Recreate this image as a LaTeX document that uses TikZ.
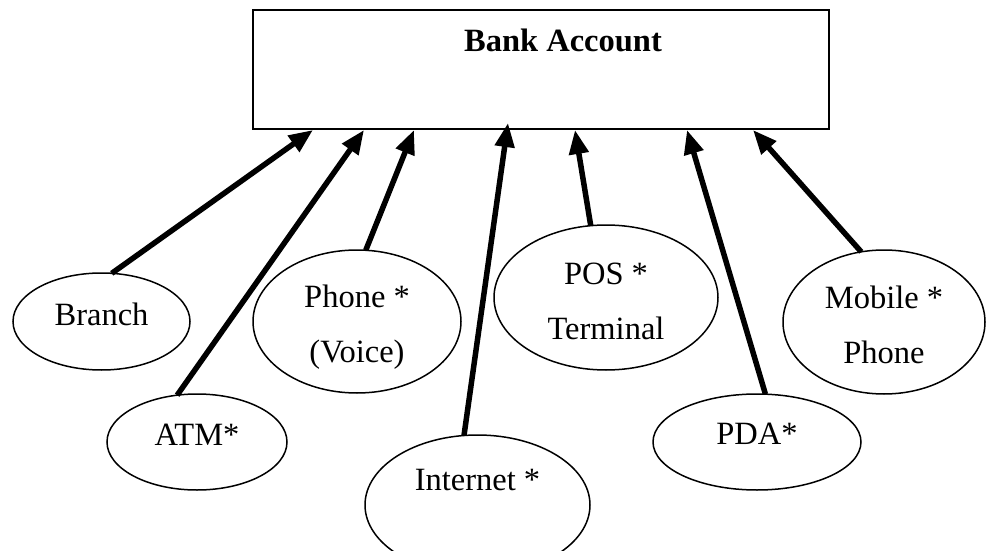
\documentclass[tikz,border=0pt]{standalone}
\usepackage{fontspec}
\setmainfont{Liberation Serif}
\usetikzlibrary{shapes.geometric,arrows.meta,calc}
\begin{document}
\begin{tikzpicture}[x=1pt,y=-1pt,
  oval/.style={draw,ellipse,line width=1.5pt,inner sep=0pt,outer sep=0pt,font=\fontsize{32.5}{55}\selectfont},
  link/.style={line width=5.5pt,-{Triangle[length=24pt,width=19pt]}},
  acctbox/.style={draw,rectangle,line width=2.5pt,inner sep=0pt,outer sep=0pt,font=\fontsize{32.5}{40}\selectfont\bfseries}]
\useasboundingbox (0,0) rectangle (986,551);
\begin{scope}
\clip (0,0) rectangle (986,551);
\node[acctbox,minimum width=576pt,minimum height=119pt,text height=0pt,text depth=35pt] (acct) at (541,69.5) {\hspace*{44pt}Bank Account};

\node[oval,minimum width=177pt,minimum height=97pt,text height=7pt,text depth=0pt] (branch) at (101.5,321.5) {Branch};
\node[oval,minimum width=180pt,minimum height=96pt,text height=6pt,text depth=0pt] (atm) at (197,442) {ATM*};
\node[oval,minimum width=208pt,minimum height=143pt,text height=81pt,text depth=0pt] (phone) at (357,321.5) {\begin{tabular}[b]{@{}c@{}}Phone *\\(Voice)\end{tabular}};
\node[oval,minimum width=225pt,minimum height=140pt,text height=0pt,text depth=30pt] (internet) at (477.5,505) {Internet *};
\node[oval,minimum width=224pt,minimum height=145pt,text height=83pt,text depth=0pt] (pos) at (606,297.5) {\begin{tabular}[b]{@{}c@{}}POS *\\Terminal\end{tabular}};
\node[oval,minimum width=208pt,minimum height=96pt,text height=4pt,text depth=0pt] (pda) at (757,442) {PDA*};
\node[oval,minimum width=202pt,minimum height=144pt,text height=82pt,text depth=0pt] (mobile) at (884,322) {\begin{tabular}[b]{@{}c@{}}Mobile *\\Phone\end{tabular}};

\draw[link] (branch.78) -- ($(acct.south west)+(60,1)$);
\draw[link] (atm.113) -- ($(acct.south west)+(111,1)$);
\draw[link] (phone.83) -- ($(acct.south west)+(161,1)$);
\draw[link] (internet.101.7) -- ($(acct.south west)+(255,-6)$);
\draw[link] (pos.102.6) -- ($(acct.south west)+(322,1)$);
\draw[link] (pda.80.5) -- ($(acct.south west)+(434,1)$);
\draw[link] (mobile.108) -- ($(acct.south west)+(500,1)$);
\end{scope}
\end{tikzpicture}
\end{document}
